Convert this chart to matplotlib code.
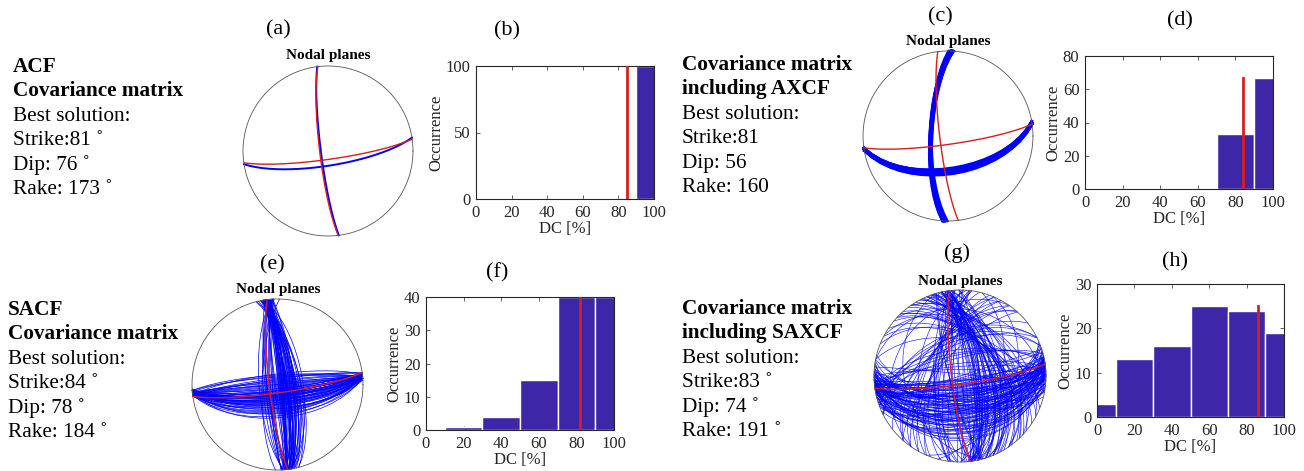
import numpy as np
import matplotlib
matplotlib.use("Agg")
import matplotlib.pyplot as plt

plt.rcParams['font.family'] = ['Liberation Serif', 'DejaVu Serif']

# ---------------- data ----------------
panel_titles = ["ACF\nCovariance matrix", "Covariance matrix\nincluding AXCF",
                "SACF\nCovariance matrix", "Covariance matrix\nincluding SAXCF"]
best_strike = [81, 81, 84, 83]
best_dip = [76, 56, 78, 74]
best_rake = [173, 160, 184, 191]
show_degree = [True, False, True, True]

# reference (true) mechanism drawn in red
true_strike, true_dip, true_rake = 82, 82, 172

# ensembles of solutions (strike, dip, rake) drawn in blue
a_strike = [81]
a_dip = [76]
a_rake = [173]

c_strike = [81, 80, 82, 81, 81, 82, 80, 81, 82, 81, 80, 81, 82, 81, 80, 82]
c_dip = [56, 54, 58, 56, 53, 57, 58, 55, 54, 57, 56, 59, 55, 54, 57, 58]
c_rake = [160, 159, 161, 160, 160, 159, 161, 160, 161, 159, 160, 160, 160, 161, 159, 160]

e_strike = [84, 83, 85, 86, 82, 84, 85, 83, 87, 84, 86, 83, 85, 84, 82, 86, 84, 83, 85, 84,
            85, 83, 86, 82, 84, 85, 83, 84, 86, 85,
            84, 86, 83, 85, 82, 84, 87, 83, 85, 84, 86, 83,
            264, 263, 265, 266, 262, 264, 263, 265, 264, 266,
            84, 85, 83, 86, 82, 84, 85, 83, 84, 86]
e_dip = [78, 82, 75, 80, 85, 88, 72, 80, 77, 83, 74, 86, 79, 76, 81, 73, 87, 84, 71, 89,
         90, 77, 82, 75, 79, 86, 73, 81, 70, 84,
         66, 62, 69, 58, 71, 64, 68, 60, 73, 65, 67, 63,
         86, 84, 88, 83, 85, 87, 80, 82, 89, 81,
         80, 76, 84, 71, 78, 90, 67, 82, 75, 79]
e_rake = [184, 188, 195, 190, 200, 182, 188, 186, 205, 192, 198, 181, 194, 189, 202, 185, 196, 191, 199, 183,
          187, 193, 186, 203, 197, 184, 190, 195, 181, 189,
          190, 185, 196, 183, 199, 188, 192, 186, 194, 181, 197, 189,
          -5, 10, -15, 5, -8, -3, 2, -12, 8, -6,
          166, 172, 168, 175, 162, 170, 164, 177, 169, 173]

g_strike = [83, 78, 90, 72, 95, 85, 80, 88, 76, 100, 84, 70, 92, 81, 86, 79, 97, 74, 89, 83,
            66, 104, 82, 87, 77, 93, 85, 71, 98, 80, 84, 75, 91, 68, 88, 82, 96, 79, 86, 73,
            264, 258, 270, 262, 276, 255, 266, 260,
            83, 89, 77, 94, 81, 86, 72, 99, 84, 80, 90, 76, 87, 69, 93, 82, 85, 78, 101, 88,
            84, 81, 87, 79, 92, 76, 85, 83, 89, 74, 95, 80, 86, 82, 78, 91, 84, 88, 77, 83,
            85, 80, 90, 82, 87, 79, 84, 86, 81, 93]
g_dip = [74, 55, 68, 40, 62, 85, 48, 71, 35, 58, 80, 52, 66, 30, 77, 44, 60, 88, 50, 72,
         45, 63, 38, 82, 57, 70, 26, 65, 47, 79, 33, 69, 54, 61, 42, 87, 36, 75, 59, 49,
         78, 70, 84, 65, 88, 73, 81, 68,
         64, 46, 83, 39, 71, 56, 90, 43, 67, 53, 76, 34, 86, 58, 41, 73, 62, 50, 69, 28,
         70, 61, 78, 52, 66, 45, 83, 57, 74, 38, 63, 80, 49, 72, 59, 67, 86, 55, 76, 64,
         81, 68, 58, 75, 47, 85, 62, 71, 54, 79]
g_rake = [191, 150, 215, 120, 240, 175, 135, 200, 110, 230, 185, 160, 225, 105, 205, 140, 250, 170, 125, 210,
          145, 235, 100, 195, 155, 220, 130, 245, 115, 180, 165, 260, 138, 228, 148, 188, 112, 218, 158, 242,
          10, -30, 25, -45, 40, -15, 55, -60,
          172, 128, 208, 142, 236, 162, 198, 118, 226, 152, 183, 132, 214, 168, 246, 108, 196, 144, 222, 176,
          200, 212, 193, 226, 206, 238, 197, 219, 203, 248, 215, 190, 232, 209, 222, 201, 194, 228, 205, 217,
          199, 211, 224, 196, 235, 192, 213, 204, 227, 198]

# DC histograms (bin centres 0:20:100)
dc_centers = [0, 20, 40, 60, 80, 100]
b_counts = [0, 0, 0, 0, 0, 100]
d_counts = [0, 0, 0, 0, 33, 67]
f_counts = [0, 1, 4, 15, 40, 40]
h_counts = [3, 13, 16, 25, 24, 19]
dc_best = [85, 84, 82, 86]
b_yticks = [0, 50, 100]
d_yticks = [0, 20, 40, 60, 80]
f_yticks = [0, 10, 20, 30, 40]
h_yticks = [0, 10, 20, 30]
x_ticks = [0, 20, 40, 60, 80, 100]

# ---------------- helpers ----------------
W, H = 1304, 471
fig = plt.figure(figsize=(W / 100, H / 100), dpi=100)

def rect(x0, y0, x1, y1):
    return [x0 / W, 1 - y1 / H, (x1 - x0) / W, (y1 - y0) / H]

def great_circle(strike, dip, n):
    s, d = np.radians(strike), np.radians(dip)
    a = np.array([np.cos(s), np.sin(s), 0.0])
    b = np.array([-np.sin(s) * np.cos(d), np.cos(s) * np.cos(d), np.sin(d)])
    th = np.linspace(0, np.pi, n)
    v = np.outer(np.cos(th), a) + np.outer(np.sin(th), b)
    trend = np.arctan2(v[:, 1], v[:, 0])
    plunge = np.arcsin(np.clip(v[:, 2], -1, 1))
    r = np.sqrt(2) * np.sin(np.pi / 4 - plunge / 2)
    return r * np.sin(trend), r * np.cos(trend)

def aux_plane(strike, dip, rake):
    s, d, l = np.radians(strike), np.radians(dip), np.radians(rake)
    u = np.array([np.cos(l) * np.cos(s) + np.cos(d) * np.sin(l) * np.sin(s),
                  np.cos(l) * np.sin(s) - np.cos(d) * np.sin(l) * np.cos(s),
                  -np.sin(l) * np.sin(d)])
    if u[2] > 0:
        u = -u
    dip2 = np.degrees(np.arccos(np.clip(-u[2], -1, 1)))
    strike2 = np.degrees(np.arctan2(-u[0], u[1])) % 360
    return strike2, dip2

def beachball(cx, cy, r, strikes, dips, rakes, blue_lw, npts):
    ax = fig.add_axes(rect(cx - r - 3, cy - r - 3, cx + r + 3, cy + r + 3))
    lim = (r + 3) / r
    ax.set_xlim(-lim, lim)
    ax.set_ylim(-lim, lim)
    ax.axis('off')
    for s, d, k in zip(strikes, dips, rakes):
        for (ss, dd) in [(s, d), aux_plane(s, d, k)]:
            x, y = great_circle(ss, dd, npts)
            ax.plot(x, y, color='#0000FF', lw=blue_lw, solid_joinstyle='round')
    for (ss, dd) in [(true_strike, true_dip), aux_plane(true_strike, true_dip, true_rake)]:
        x, y = great_circle(ss, dd, 91)
        ax.plot(x, y, color='#D81E1E', lw=1.0)
    t = np.linspace(0, 2 * np.pi, 361)
    ax.plot(np.cos(t), np.sin(t), color='#555555', lw=0.6)
    return ax

def histo(box, counts, yticks, red_x, red_top):
    ax = fig.add_axes(rect(*box))
    ax.bar(dc_centers, counts, width=20, color='#3E26A8', edgecolor='white', lw=1.0, zorder=2)
    ax.plot([red_x, red_x], [0, red_top], color='#D81E1E', lw=2.0, zorder=3)
    ax.set_xlim(0, 100)
    ax.set_ylim(yticks[0], yticks[-1])
    ax.set_xticks(x_ticks)
    ax.set_yticks(yticks)
    ax.tick_params(direction='in', length=3, width=0.5, top=True, right=True,
                   labelsize=12, colors='#262626', pad=4)
    for sp in ax.spines.values():
        sp.set_color('#262626')
        sp.set_linewidth(0.8)
    ax.set_xlabel('DC [%]', fontsize=12, color='#262626', labelpad=0)
    ax.set_ylabel('Occurrence', fontsize=12, color='#262626', labelpad=1)
    return ax

def txt(x, y, s, **kw):
    fig.text(x / W, 1 - y / H, s, **kw)

# ---------------- text blocks ----------------
blocks = [(13, 72), (682, 70), (8, 315), (682, 314)]
for i, (bx, by) in enumerate(blocks):
    deg = ' ˚' if show_degree[i] else ''
    bold_lines = panel_titles[i].split('\n')
    plain_lines = ['Best solution:',
                   f'Strike:{best_strike[i]}{deg}',
                   f'Dip: {best_dip[i]}{deg}',
                   f'Rake: {best_rake[i]}{deg}']
    yy = by
    for ln in bold_lines:
        txt(bx, yy, ln, fontsize=15.3, fontweight='bold', va='baseline', ha='left')
        yy += 24.4
    for ln in plain_lines:
        txt(bx, yy, ln, fontsize=15.3, va='baseline', ha='left')
        yy += 24.4

# ---------------- nodal planes ----------------
beachball(328, 151, 85, a_strike, a_dip, a_rake, 1.4, 25)
beachball(948, 136, 85, c_strike, c_dip, c_rake, 1.8, 19)
beachball(277.5, 384.5, 85.5, e_strike, e_dip, e_rake, 0.5, 19)
beachball(960, 376, 86, g_strike, g_dip, g_rake, 0.4, 25)
for (x, y) in [(328, 56), (948, 42), (278, 290), (960, 281)]:
    txt(x, y, 'Nodal planes', fontsize=11, fontweight='bold', ha='center', va='center')

# ---------------- histograms ----------------
histo((476, 66, 654, 199), b_counts, b_yticks, dc_best[0], 100)
histo((1085, 56, 1273, 189), d_counts, d_yticks, dc_best[1], 67)
histo((426, 297, 614, 430), f_counts, f_yticks, dc_best[2], 40)
histo((1097, 284, 1284, 417), h_counts, h_yticks, dc_best[3], 25)

# ---------------- panel letters ----------------
letters = ['(a)', '(b)', '(c)', '(d)', '(e)', '(f)', '(g)', '(h)']
letter_pos = [(278, 30), (507, 31), (940, 17), (1180, 21), (272, 265), (497, 273), (957, 253), (1175, 262)]
for s, (x, y) in zip(letters, letter_pos):
    txt(x, y, s, fontsize=16, ha='center', va='center')

fig.savefig('out.png', dpi=100)
